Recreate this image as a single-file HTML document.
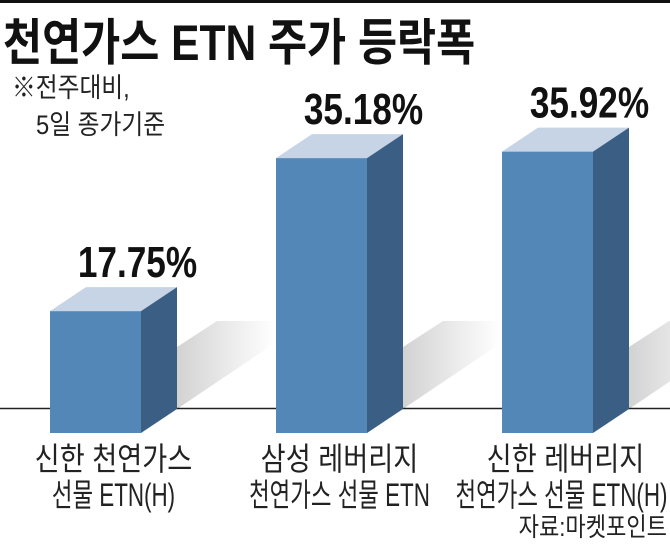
<!DOCTYPE html>
<html><head><meta charset="utf-8">
<style>
html,body{margin:0;padding:0;background:#fff;}
body{width:670px;height:552px;overflow:hidden;position:relative;font-family:"Liberation Sans","Noto Sans CJK KR",sans-serif;}
svg{position:absolute;left:0;top:0;}
</style></head>
<body>
<svg width="670" height="552" viewBox="0 0 670 552">
  <defs>
    <linearGradient id="shd" x1="0" y1="0" x2="1" y2="0">
      <stop offset="0" stop-color="#d2d2d2"/>
      <stop offset="0.6" stop-color="#eeeeee"/>
      <stop offset="1" stop-color="#ffffff"/>
    </linearGradient>
  </defs>
  <rect x="0" y="0" width="670" height="3" fill="#111"/>
  <text x="0" y="0" font-size="50" font-weight="bold" fill="#111" transform="translate(3,60) scale(0.85,1)">천연가스 ETN 주가 등락폭</text>
  <text x="0" y="0" font-size="27" fill="#222" transform="translate(12,97) scale(0.88,1)">※전주대비,</text>
  <text x="0" y="0" font-size="27" fill="#222" transform="translate(36,134) scale(0.88,1)">5일 종가기준</text>
  <g id="shadows"></g>
  <line x1="0" y1="408.5" x2="670" y2="408.5" stroke="#222" stroke-width="1.5"/>
  <g id="bars"></g>
  <text x="0" y="0" font-size="26" fill="#222" text-anchor="end" transform="translate(667,536) scale(0.85,1)">자료:마켓포인트</text>
</svg>
<script>
const categories1 = ["신한 천연가스", "삼성 레버리지", "신한 레버리지"];
const categories2 = ["선물 ETN(H)", "천연가스 선물 ETN", "천연가스 선물 ETN(H)"];
const values = [17.75, 35.18, 35.92];
const valueLabels = ["17.75%", "35.18%", "35.92%"];

const NS = "http://www.w3.org/2000/svg";
const y0 = 467, pxPerUnit = 8.78;
function yScale(v){ return y0 - v * pxPerUnit; }
function xScale(i){ return 50 + i * 226; }
const W = 91, DX = 36, DY = 24, BOTTOM = 433, BASE = 409;
const bars = document.getElementById('bars');
const shadows = document.getElementById('shadows');
function mk(tag, attrs, parent){
  const e = document.createElementNS(NS, tag);
  for (const k in attrs) e.setAttribute(k, attrs[k]);
  parent.appendChild(e);
  return e;
}
values.forEach((v, i) => {
  const x = xScale(i), yt = yScale(v);
  const sx = x + W + DX;
  const sh = mk('polygon', {points: `${sx},${BASE} ${sx},${BASE-62} ${sx+40},${BASE-88} ${sx+98},${BASE-88} ${sx+98},${BASE-66}`, fill: 'url(#shd)'}, shadows);
  
  
  const g = mk('g', {}, bars);
  
  
  const top = mk('polygon', {points: `${x},${yt} ${x+DX},${yt-DY} ${x+W+DX},${yt-DY} ${x+W},${yt}`, fill: '#c6d4e5'}, g);
  
  
  const side = mk('polygon', {points: `${x+W},${yt} ${x+W+DX},${yt-DY} ${x+W+DX},${BASE} ${x+W},${BOTTOM}`, fill: '#3b5f84'}, g);
  
  
  const front = mk('rect', {x: x, y: yt, width: W, height: BOTTOM - yt, fill: '#5287b7'}, g);
  
  
  const cx = x + W/2 + 42;
  const t = mk('text', {x: 0, y: 0, 'font-size': 44, 'font-weight': 'bold', fill: '#111', 'text-anchor': 'middle', transform: `translate(${cx},${yt-34}) scale(0.8,1)`}, bars);
  t.textContent = valueLabels[i];
  
  
  const lx = x + W/2 + 18;
  const c1 = mk('text', {x: 0, y: 0, 'font-size': 32, fill: '#222', 'text-anchor': 'middle', transform: `translate(${lx},${470}) scale(0.85,1)`}, bars);
  c1.textContent = categories1[i];
  
  
  const c2 = mk('text', {x: 0, y: 0, 'font-size': 32, fill: '#222', 'text-anchor': 'middle', transform: `translate(${lx - (i === 2 ? 4 : 0)},${506}) scale(0.7,1)`}, bars);
  c2.textContent = categories2[i];
  
  
});
</script>
</body></html>
